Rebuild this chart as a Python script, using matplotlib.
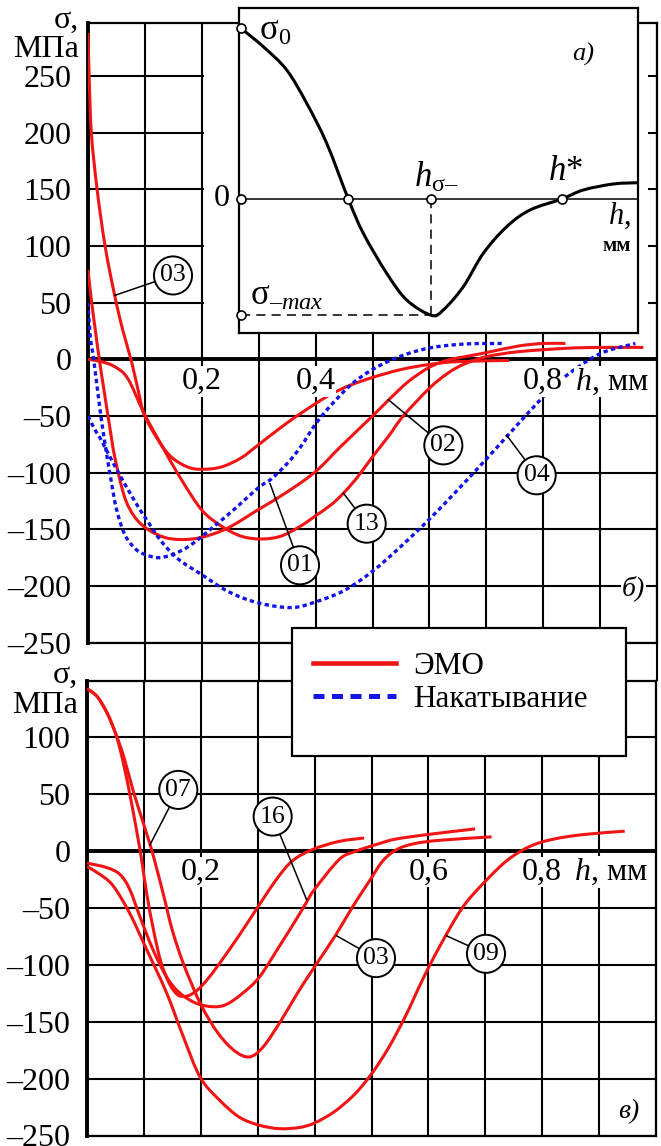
import matplotlib
matplotlib.use('Agg')
import numpy as np
import matplotlib.pyplot as plt
from matplotlib.lines import Line2D
from matplotlib.patches import Rectangle, PathPatch
from matplotlib.path import Path

plt.rcParams['font.family'] = ['Liberation Serif', 'DejaVu Serif']
plt.rcParams['mathtext.fontset'] = 'custom'
plt.rcParams['mathtext.rm'] = 'Liberation Serif'
plt.rcParams['mathtext.it'] = 'Liberation Serif:italic'
plt.rcParams['mathtext.bf'] = 'Liberation Serif:bold'

RED = '#f01414'
BLUE = '#1414e6'

# ---- panel б) : ЭМО (red) and Накатывание (blue) ----
h_03 = [0.0, 0.002, 0.006, 0.016, 0.030, 0.047, 0.061, 0.076, 0.088, 0.099, 0.123, 0.146, 0.175, 0.2,
        0.234, 0.269, 0.298, 0.35, 0.4, 0.43, 0.46, 0.5, 0.55, 0.6, 0.65, 0.74]
s_03 = [288, 250, 199, 150, 100, 56, 26, -1, -27, -49, -71, -86, -95, -97,
        -95, -87, -76, -56, -39, -30, -23, -16, -9, -4.5, -2, -1]

h_13 = [0.0, 0.023, 0.047, 0.07, 0.099, 0.134, 0.164, 0.2, 0.234, 0.269, 0.304, 0.339, 0.374, 0.4,
        0.428, 0.451, 0.475, 0.5, 0.528, 0.554, 0.6, 0.633, 0.662, 0.7, 0.756, 0.839, 0.897, 0.976]
s_13 = [0, -2, -6.5, -17, -48, -80, -106, -133, -147, -156, -158.5, -156, -147, -138,
        -128, -117, -103, -86, -68, -50, -25.5, -12, -4, 2.3, 6.7, 9.7, 10.5, 10.5]

h_02 = [0.0, 0.006, 0.012, 0.02, 0.029, 0.038, 0.047, 0.064, 0.082, 0.105, 0.134, 0.164, 0.2, 0.245,
        0.298, 0.35, 0.4, 0.444, 0.5, 0.53, 0.563, 0.6, 0.633, 0.662, 0.7, 0.756, 0.8, 0.839]
s_02 = [79, 52, 29, -0.6, -30, -59, -86, -121, -139, -150, -157, -159, -157, -149,
        -133, -117, -99, -77, -50, -35, -19.6, -7, -0.6, 2.3, 5.9, 11.7, 14, 14]

h_01 = [0.0, 0.004, 0.01, 0.02, 0.03, 0.04, 0.05, 0.065, 0.085, 0.105, 0.125, 0.15, 0.18, 0.22,
        0.26, 0.3, 0.321, 0.35, 0.374, 0.4, 0.428, 0.463, 0.5, 0.545, 0.6, 0.662, 0.727]
s_01 = [50, 20, 0, -40, -75, -105, -132, -155, -168, -173, -175, -172, -164, -148,
        -131, -113, -106, -92, -77, -57, -40, -22, -9, 2, 10, 13.5, 14]

h_04 = [0.0, 0.012, 0.023, 0.047, 0.082, 0.105, 0.128, 0.158, 0.2, 0.247, 0.3, 0.358, 0.4, 0.45,
        0.5, 0.55, 0.6, 0.65, 0.7, 0.738, 0.8, 0.839, 0.9, 0.962]
s_04 = [-50, -62, -71, -94, -125, -143, -160, -176, -190, -205, -215, -219, -214, -204,
        -187, -165, -141, -115, -88, -67, -33, -15, 5, 14]

# ---- panel в) : ЭМО only ----
h_07 = [0.0, 0.018, 0.035, 0.047, 0.056, 0.066, 0.077, 0.087, 0.096, 0.105, 0.117, 0.13, 0.145, 0.158,
        0.168, 0.18, 0.195, 0.21, 0.233, 0.268, 0.297, 0.332, 0.361, 0.397, 0.443, 0.487]
s_07 = [142, 135, 121, 107, 93, 72, 45, 18, -8, -38, -70, -98, -117, -126,
        -128, -127, -122, -114, -99, -74, -52, -26, -9, 1, 8, 11]

h_16 = [0.0, 0.035, 0.058, 0.075, 0.093, 0.116, 0.14, 0.163, 0.192, 0.221, 0.245, 0.274, 0.303, 0.338,
        0.367, 0.385, 0.4, 0.443, 0.47, 0.513, 0.542, 0.598, 0.682]
s_16 = [-11, -15, -21, -34, -58, -87, -111, -125, -134, -137, -135, -125, -111, -84,
        -61, -46, -34, -8, -1, 6, 10, 14, 19]

h_03b = [0.0, 0.018, 0.035, 0.047, 0.056, 0.066, 0.082, 0.099, 0.111, 0.12, 0.135, 0.15, 0.17, 0.2,
         0.23, 0.26, 0.286, 0.31, 0.34, 0.37, 0.4, 0.436, 0.466, 0.496, 0.52, 0.545, 0.575, 0.62, 0.711]
s_03b = [142, 135, 121, 107, 95, 80, 51, 24, 5, -11, -40, -70, -100, -135,
         -160, -176, -181, -172, -150, -125, -102, -75, -50, -27, -9, 1, 6, 9, 12]

h_09 = [0.0, 0.023, 0.046, 0.075, 0.105, 0.14, 0.169, 0.199, 0.233, 0.268, 0.303, 0.338, 0.373, 0.4,
        0.435, 0.47, 0.5, 0.53, 0.56, 0.59, 0.62, 0.66, 0.7, 0.74, 0.78, 0.82, 0.872, 0.945]
s_09 = [-14, -21, -31, -55, -87, -125, -163, -199, -219, -234, -241, -244, -243, -239,
        -229, -214, -196, -173, -145, -113, -84, -50, -27, -8, 4, 10, 14, 17]

# ---- inset а) : schematic curve (arbitrary units) ----
xa = [2, 24.3, 47.7, 67.7, 87.7, 109.3, 124.3, 147.7, 167.7, 192.3, 204.3, 224.3, 244.3, 267.7,
      291, 322.7, 344.3, 374.3, 399.3]
ya = [170.7, 152.3, 129, 95.7, 55.7, 0, -34.3, -74.3, -101, -116.3, -111, -87.7, -54.3, -27.7,
      -11, 0, 9, 15, 16.3]

FS = 23
W, H = 661, 1146
fig = plt.figure(figsize=(W / 100, H / 100), dpi=100)

ax1 = fig.add_axes([88 / W, 1 - 642.7 / H, 569 / W, 620 / H])
ax2 = fig.add_axes([87 / W, 1 - 1135.5 / H, 569 / W, 454.8 / H])


def smooth(ax, x, y, **kw):
    # curve through the read points, drawn as a Catmull-Rom / Bezier path
    p = np.column_stack([x, y]).astype(float)
    n = len(p)
    verts, codes = [p[0]], [Path.MOVETO]
    for i in range(n - 1):
        p0 = p[i - 1] if i > 0 else p[i]
        p1, p2 = p[i], p[i + 1]
        p3 = p[i + 2] if i + 2 < n else p[i + 1]
        verts += [p1 + (p2 - p0) / 6, p2 - (p3 - p1) / 6, p2]
        codes += [Path.CURVE4] * 3
    ax.add_patch(PathPatch(Path(verts, codes), fill=False, **kw))


solid = dict(edgecolor=RED, lw=2.2, capstyle='butt', zorder=3)
dotted = dict(edgecolor=BLUE, lw=2.4, ls=(0, (1.3, 1.0)), capstyle='butt', zorder=3)


def setup(ax, ylo, yhi, ylabs):
    ax.set_xlim(0, 1.0)
    ax.set_ylim(ylo, yhi)
    ax.set_xticks(np.arange(0, 1.01, 0.1))
    ax.set_xticklabels([])
    yt = [v for v in range(-250, 251, 50) if v <= yhi]
    ax.set_yticks(yt)
    ax.set_yticklabels([(str(v).replace('-', '\u2013') if v in ylabs else '') for v in yt],
                       fontsize=FS)
    ax.tick_params(length=0, pad=12)
    ax.grid(True, color='black', lw=1.5)
    ax.set_axisbelow(True)
    for sp in ax.spines.values():
        sp.set_linewidth(1.6)
    ax.spines['left'].set_linewidth(2.8)
    ax.axhline(0, color='black', lw=2.8, zorder=1)


setup(ax1, -250, 297, list(range(-250, 251, 50)))
setup(ax2, -250, 149, list(range(-250, 101, 50)))

smooth(ax1, h_03, s_03, **solid)
smooth(ax1, h_13, s_13, **solid)
smooth(ax1, h_02, s_02, **solid)
smooth(ax1, h_01, s_01, **dotted)
smooth(ax1, h_04, s_04, **dotted)

smooth(ax2, h_07, s_07, **solid)
smooth(ax2, h_16, s_16, **solid)
smooth(ax2, h_03b, s_03b, **solid)
smooth(ax2, h_09, s_09, **solid)

# grid lines running through the gap between the panels
ax1.vlines(np.arange(0.1, 1.01, 0.1), -283.5, -250, color='black', lw=1.5, clip_on=False)

# white field under the inset
ax1.add_patch(Rectangle((0.204, 23), 0.78, 300, facecolor='white', edgecolor='none', zorder=1.2))

# axis captions
for ax, y1, y2 in [(ax1, 299, 273), (ax2, 154, 127)]:
    ax.text(-0.016, y1, 'σ,', ha='right', va='center', fontsize=FS, clip_on=False)
    ax.text(-0.016, y2, 'МПа', ha='right', va='center', fontsize=FS, clip_on=False)

lab_box = dict(facecolor='white', edgecolor='none', pad=0.5)
for v in [0.2, 0.4, 0.8]:
    ax1.text(v, -19.5, f'{v:.1f}'.replace('.', ','), ha='center', va='center', fontsize=FS,
             bbox=lab_box, zorder=6)
for v in [0.2, 0.6, 0.8]:
    ax2.text(v, -18.7, f'{v:.1f}'.replace('.', ','), ha='center', va='center', fontsize=FS,
             bbox=lab_box, zorder=6)
ax1.text(0.856, -19.5, r'$\mathit{h}$, мм', ha='left', va='center', fontsize=FS, bbox=lab_box, zorder=6)
ax2.text(0.856, -18.7, r'$\mathit{h}$, мм', ha='left', va='center', fontsize=FS, bbox=lab_box, zorder=6)

ax1.text(0.958, -202, 'б)', style='italic', ha='center', va='center', fontsize=20,
         bbox=lab_box, zorder=6)
ax2.text(0.9525, -229, 'в)', style='italic', ha='center', va='center', fontsize=20,
         bbox=lab_box, zorder=6)

# curve numbers
circ = dict(boxstyle='circle,pad=0.24', facecolor='white', edgecolor='black', lw=1.4)
callouts1 = [('03', 0.1494, 74, 0.0475, 56.5), ('01', 0.3726, -181.7, 0.32, -109.7),
             ('13', 0.4898, -145, 0.4488, -118), ('02', 0.6245, -75.9, 0.5278, -35.6),
             ('04', 0.7885, -102.3, 0.7358, -67)]
callouts2 = [('07', 0.1605, 53.2, 0.1107, 5), ('16', 0.3263, 29.8, 0.386, -43.2),
             ('03', 0.5079, -94.4, 0.4388, -74.8), ('09', 0.7012, -90.6, 0.632, -74.8)]
for ax, items in [(ax1, callouts1), (ax2, callouts2)]:
    for txt, cx, cy, px, py in items:
        ax.plot([px, cx], [py, cy], color='black', lw=1.1, zorder=4)
        ax.text(cx, cy, txt, ha='center', va='center', fontsize=18.5, bbox=circ, zorder=5)

# ---- inset ----
axi = fig.add_axes([239 / W, 1 - 333 / H, 399 / W, 325 / H], zorder=5)
axi.set_xlim(0, 399)
axi.set_ylim(-134, 191)
axi.set_xticks([])
axi.set_yticks([])
for sp in axi.spines.values():
    sp.set_linewidth(1.6)
axi.plot([2, 399], [0, 0], color='black', lw=1.1, zorder=2)
axi.plot([2, 192.3], [-116.3, -116.3], color='black', lw=1.1, ls=(0, (6, 4)), zorder=2)
axi.plot([192.3, 192.3], [0, -116.3], color='black', lw=1.1, ls=(0, (6, 4)), zorder=2)
smooth(axi, xa, ya, edgecolor='black', lw=2.2, zorder=3)
mk = dict(marker='o', ms=6.5, mfc='white', mec='black', mew=1.2, ls='none', zorder=4, clip_on=False)
axi.plot([2, 2, 2, 109.3, 192.3, 322.7], [170.7, 0, -116.3, 0, 0, 0], **mk)
axi.text(20, 168, r'$\mathregular{σ_0}$', ha='left', va='center', fontsize=25)
axi.text(197, 21, r'$\mathit{h}_{\mathregular{σ–}}$', ha='center', va='center', fontsize=25)
axi.text(327, 28, r'$\mathit{h}\mathregular{*}$', ha='center', va='center', fontsize=25)
axi.text(11, -97, r'$\mathregular{σ}_{\mathit{–max}}$', ha='left', va='center', fontsize=25)
axi.text(392, -17, r'$\mathit{h}$,', ha='right', va='center', fontsize=22)
axi.text(392, -47, 'мм', ha='right', va='center', fontsize=15, fontweight='bold')
axi.text(344, 145, 'а)', style='italic', ha='center', va='center', fontsize=19)
axi.text(-9, 0, '0', ha='right', va='center', fontsize=FS, clip_on=False)

# legend: frame box plus entries
fig.add_artist(Rectangle((292 / W, 1 - 756 / H), 334 / W, 128 / H, transform=fig.transFigure,
                         facecolor='white', edgecolor='black', lw=1.6, zorder=9))
handles = [Line2D([], [], color=RED, lw=3.3),
           Line2D([], [], color=BLUE, lw=3.6, ls=(0, (2.2, 1.5)))]
leg = fig.legend(handles, ['ЭМО', 'Накатывание'], loc='upper left',
                 bbox_to_anchor=(313 / W, 1 - 652 / H), borderaxespad=0, borderpad=0,
                 frameon=False, handlelength=2.65, handletextpad=0.55, labelspacing=0.12,
                 fontsize=22.5)
leg.set_zorder(10)

fig.savefig('out.png', dpi=100)
